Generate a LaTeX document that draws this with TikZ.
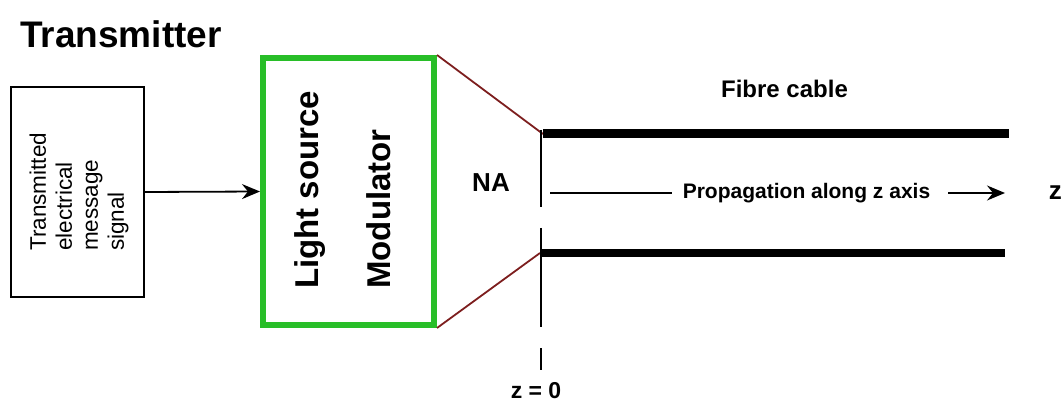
\documentclass[tikz,border=0pt]{standalone}
\usepackage{fontspec}
\setmainfont{Liberation Sans}
\usetikzlibrary{arrows.meta,positioning}
\definecolor{srcgreen}{RGB}{40,190,40}
\definecolor{conered}{RGB}{125,30,30}

\begin{document}
\begin{tikzpicture}[x=1pt,y=-1pt,
  lbl/.style={inner sep=0pt, font=\fontsize{#1}{#1}\selectfont\bfseries},
  arrowline/.style={line width=1.8pt, -{Stealth[length=18pt,width=15pt,inset=6pt]}}]
  \clip (0,0) rectangle (1063,403);
  % Blocks
  \node[draw, line width=2.2pt, minimum width=133pt, minimum height=210pt] (src) at (77.5,192) {};
  \node[draw=srcgreen, line width=6pt, minimum width=171pt, minimum height=267pt] (mod) at (348.5,191.5) {};
  \node[lbl=37, anchor=base west] (title) at (20,48) {Transmitter};

  % Rotated texts
  \node[inner sep=0pt, font=\fontsize{22.5}{26}\selectfont, rotate=90, align=left, anchor=west] (srctxt) at (79,251)
    {Transmitted\\electrical\\message\\signal};
  \node[lbl=33, rotate=90, anchor=west] (lsrc) at (310,289) {Light source};
  \node[lbl=33, rotate=90, anchor=west] (lmod) at (379,289) {Modulator};

  \draw[arrowline] (src.east) -- (mod.west);

  % Fibre ends and cone
  \coordinate (ftop) at (543,134);
  \coordinate (fbot) at (540,253);
  \draw[conered, line width=1.8pt] (mod.north east) -- (ftop);
  \draw[conered, line width=1.8pt] (mod.south east) -- (fbot);
  \draw[line width=9pt] (ftop) -- (1009,134);
  \draw[line width=8pt] (fbot) -- (1005,253);
  \draw[line width=2pt, dash pattern=on 77pt off 21pt on 99pt off 21pt on 22pt] (541,130) -- (541,370);

  % Labels
  \node[lbl=26] (na) at (491,183) {NA};
  \node[lbl=24] (fibre) at (784.5,89) {Fibre cable};
  \node[lbl=21] (prop) at (806.5,193) {Propagation along z axis};
  \node[lbl=26, anchor=east] (zax) at (1062,193) {z};
  \node[lbl=23] (zzero) at (536,391) {z = 0};

  % Propagation
  \coordinate (pstart) at (550,193);
  \coordinate (pend) at (1005,193);
  \draw[line width=1.8pt] (pstart) -- ([xshift=-11pt]prop.west);
  \draw[arrowline] ([xshift=18pt]prop.east) -- (pend);
\end{tikzpicture}
\end{document}
